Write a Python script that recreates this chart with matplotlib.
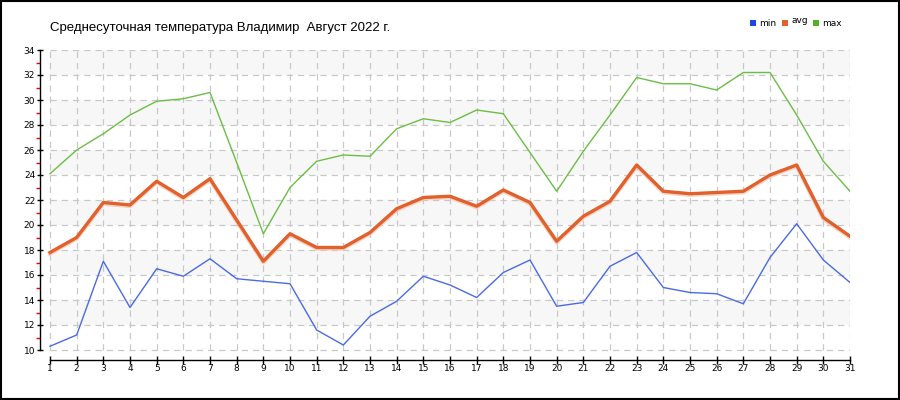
import matplotlib
matplotlib.use("Agg")
import matplotlib.pyplot as plt
from matplotlib.patches import Rectangle
from matplotlib.ticker import FixedLocator

days = list(range(1, 32))
t_min = [10.3, 11.2, 17.1, 13.4, 16.5, 15.9, 17.3, 15.7, 15.5, 15.3, 11.6, 10.4, 12.7, 13.9, 15.9, 15.2,
         14.2, 16.2, 17.2, 13.5, 13.8, 16.7, 17.8, 15.0, 14.6, 14.5, 13.7, 17.4, 20.1, 17.2, 15.4]
t_avg = [17.8, 19.0, 21.8, 21.6, 23.5, 22.2, 23.7, 20.4, 17.1, 19.3, 18.2, 18.2, 19.4, 21.3, 22.2, 22.3,
         21.5, 22.8, 21.8, 18.7, 20.7, 21.9, 24.8, 22.7, 22.5, 22.6, 22.7, 24.0, 24.8, 20.6, 19.1]
t_max = [24.1, 26.0, 27.3, 28.8, 29.9, 30.1, 30.6, 25.0, 19.3, 23.0, 25.1, 25.6, 25.5, 27.7, 28.5, 28.2,
         29.2, 28.9, 25.8, 22.7, 25.9, 28.8, 31.8, 31.3, 31.3, 30.8, 32.2, 32.2, 28.8, 25.1, 22.7]
y_ticks = list(range(10, 35, 2))
title = "Среднесуточная температура Владимир  Август 2022 г."
series_names = ["min", "avg", "max"]

W, H = 900, 400
fig = plt.figure(figsize=(9, 4), dpi=100)
fig.patch.set_facecolor("white")

def fx(px):
    return px / W

def fy(py):
    return 1 - py / H

# axes: left edge at x=40, right at x=850, top y=50 (34), bottom y=360
ax = fig.add_axes([fx(40), fy(360), fx(850) - fx(40), fy(50) - fy(360)])
ax.set_xlim(1 - 10 / (800 / 30), 31)
ax.set_ylim(34 - 310 / 12.5, 34)
ax.set_facecolor("none")

# bands
for lo in range(12, 34, 4):
    ax.fill_between([1, 31], lo, lo + 2, color="#f7f7f7", lw=0, zorder=0)

# grid
for d in days:
    ax.plot([d, d], [10, 34], color="#c8c8c8", lw=0.9, ls=(0, (5, 4)), zorder=1)
for v in y_ticks:
    ax.plot([1, 31], [v, v], color="#c8c8c8", lw=0.9, ls=(0, (5, 4)), zorder=1)

# lines
ax.plot(days, t_max, color="#6cbd45", lw=1.0, zorder=3)
ax.plot(days, t_min, color="#4a6ae6", lw=1.0, zorder=3)
ax.plot(days, [v - 0.08 for v in t_avg], color="#f5c4ae", lw=3.2, zorder=3, alpha=0.7)
ax.plot(days, t_avg, color="#e2602c", lw=2.4, zorder=4)

# spines
for s in ["top", "right"]:
    ax.spines[s].set_visible(False)
ax.spines["left"].set_bounds(10, 34)
ax.spines["bottom"].set_bounds(1, 31)
ax.spines["left"].set_linewidth(1.0)
ax.spines["bottom"].set_linewidth(1.0)

ax.set_yticks(y_ticks)
ax.set_yticklabels([str(v) for v in y_ticks])
ax.yaxis.set_minor_locator(FixedLocator(list(range(11, 34, 2))))
ax.tick_params(axis="y", which="major", direction="inout", length=5, width=1.0,
               labelsize=6.5, pad=1, colors="black")
ax.tick_params(axis="y", which="minor", direction="out", length=3, width=1.0, color="red")

ax.set_xticks(days)
ax.set_xticklabels([str(d) for d in days])
ax.tick_params(axis="x", which="major", direction="inout", length=6, width=1.0,
               labelsize=6.5, pad=0)
for lab in ax.get_xticklabels() + ax.get_yticklabels():
    lab.set_family("DejaVu Sans")

# title
fig.text(fx(50), fy(28), title, fontsize=9.5, family="Liberation Sans", va="center", ha="left")

# legend
cols = ["#1f44e0", "#e2602c", "#52b027"]
xs = [750, 782, 813]
for c, x0, name in zip(cols, xs, series_names):
    fig.patches.append(Rectangle((fx(x0), fy(26)), fx(6), 6 / H, transform=fig.transFigure,
                                 facecolor=c, edgecolor="none"))
    yoff = 20.5 if name == "avg" else 23
    fig.text(fx(x0 + 9), fy(yoff), name, fontsize=6.5, family="DejaVu Sans", va="center", ha="left")

# border
fig.patches.append(Rectangle((0.0008, 0.002), 0.998, 0.996, transform=fig.transFigure,
                             facecolor="none", edgecolor="black", lw=1.5))

fig.savefig("out.png", dpi=100)
